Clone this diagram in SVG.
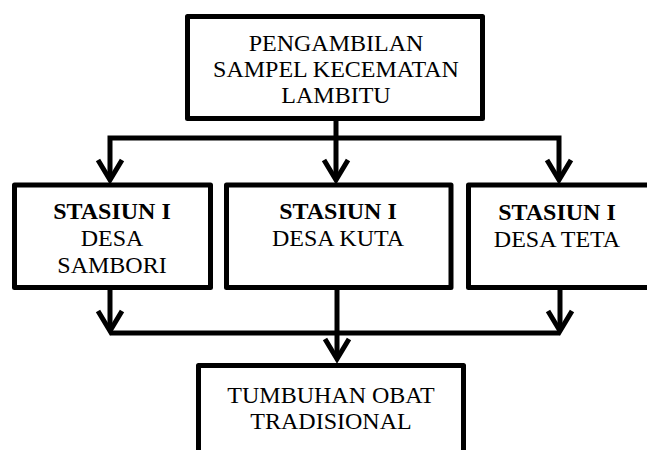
<svg xmlns="http://www.w3.org/2000/svg" width="647" height="450" viewBox="0 0 647 450">
<defs>
<style>
.box{fill:#fff;stroke:#000;stroke-width:5;stroke-linejoin:round}
.ln{fill:none;stroke:#000;stroke-width:5;stroke-linejoin:miter}
text{font-family:"Liberation Serif","Times New Roman",serif;font-size:24px;fill:#000;text-anchor:middle}
.b{font-weight:bold}
</style>
<marker id="arr" markerUnits="userSpaceOnUse" orient="auto" markerWidth="40" markerHeight="40" refX="0" refY="0" overflow="visible">
<path d="M-20,-12 L0,0 L-20,12" fill="none" stroke="#000" stroke-width="5" stroke-linejoin="miter"/>
</marker>
</defs>
<rect width="647" height="450" fill="#fff"/>
<g id="connectors">
<path class="ln" d="M336,119 V180" marker-end="url(#arr)"/>
<path class="ln" d="M336,138 H110 V180" marker-end="url(#arr)"/>
<path class="ln" d="M336,138 H559 V180" marker-end="url(#arr)"/>
<path class="ln" d="M110,288 V331" marker-end="url(#arr)"/>
<path class="ln" d="M560,288 V331" marker-end="url(#arr)"/>
<path class="ln" d="M110,333 H560"/>
<path class="ln" d="M337,288 V359" marker-end="url(#arr)"/>
</g>
<g id="top">
<rect class="box" x="187.5" y="16.5" width="295" height="102"/>
<text x="336" y="51">PENGAMBILAN</text>
<text x="336" y="77">SAMPEL KECEMATAN</text>
<text x="336" y="103">LAMBITU</text>
</g>
<g id="sambori">
<rect class="box" x="14.5" y="185" width="196" height="102.5"/>
<text class="b" x="112" y="219">STASIUN I</text>
<text x="112" y="246">DESA</text>
<text x="112" y="273">SAMBORI</text>
</g>
<g id="kuta">
<rect class="box" x="226.5" y="185" width="224.5" height="102.5"/>
<text class="b" x="338" y="219">STASIUN I</text>
<text x="338" y="246">DESA KUTA</text>
</g>
<g id="teta">
<rect class="box" x="468.5" y="185" width="185" height="102.5"/>
<text class="b" x="557" y="220">STASIUN I</text>
<text x="557" y="247">DESA TETA</text>
</g>
<g id="tumbuhan">
<rect class="box" x="198.5" y="365.5" width="265" height="100"/>
<text x="331" y="403">TUMBUHAN OBAT</text>
<text x="331" y="429">TRADISIONAL</text>
</g>
</svg>
